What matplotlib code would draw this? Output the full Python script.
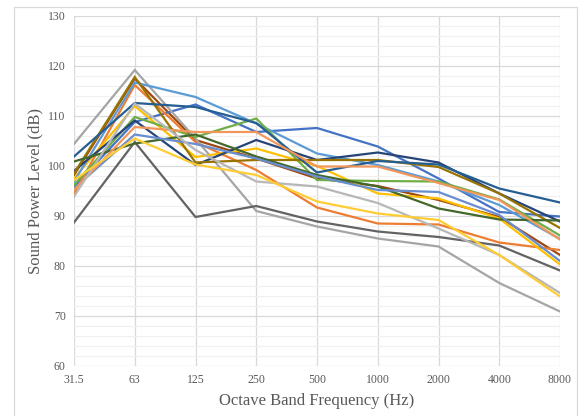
import matplotlib
matplotlib.use("Agg")
import matplotlib.pyplot as plt
from matplotlib.patches import Rectangle
from matplotlib.ticker import MultipleLocator

categories = ["31.5", "63", "125", "250", "500", "1000", "2000", "4000", "8000"]

blue         = [95.9, 108.8, 112.3, 106.8, 107.6, 103.9, 97.5, 90.8, 89.9]
orange       = [94.5, 116.2, 104.8, 99.2, 91.7, 88.5, 88.3, 84.7, 83.2]
gray         = [104.4, 119.2, 105.5, 91.0, 87.9, 85.5, 83.9, 76.6, 70.9]
gold         = [97.5, 112.0, 101.8, 103.5, 100.0, 94.5, 93.5, 89.5, 80.3]
light_blue   = [96.9, 116.7, 113.8, 108.5, 102.5, 100.2, 96.9, 92.2, 85.4]
green        = [96.2, 109.8, 105.8, 109.5, 97.2, 97.0, 96.9, 93.3, 86.1]
dark_navy    = [99.0, 109.1, 100.2, 105.2, 101.2, 102.7, 100.7, 94.5, 88.9]
brown        = [98.2, 117.5, 105.2, 101.5, 97.5, 96.0, 93.2, 89.8, 82.2]
dark_gray    = [88.7, 104.8, 89.8, 92.0, 88.9, 86.9, 85.8, 84.1, 79.1]
dark_gold    = [98.5, 117.8, 100.7, 101.2, 101.2, 101.2, 99.8, 94.5, 87.6]
steel_blue   = [101.9, 112.6, 111.8, 108.6, 98.7, 101.0, 100.3, 95.5, 92.7]
dark_green   = [100.9, 104.5, 106.3, 101.9, 98.2, 95.9, 91.5, 89.3, 89.1]
lighter_blue = [95.5, 106.3, 104.4, 101.5, 97.9, 95.2, 94.8, 90.2, 81.0]
light_orange = [95.2, 107.8, 106.8, 106.8, 99.9, 99.9, 96.6, 93.2, 85.3]
light_gray   = [93.9, 112.5, 103.2, 96.9, 95.9, 92.6, 87.5, 82.2, 74.6]
low_gold     = [97.2, 105.5, 100.3, 98.2, 92.9, 90.5, 89.2, 82.2, 73.9]

series = [
    (brown, "#9E480E"),
    (blue, "#4472C4"), (orange, "#ED7D31"), (gray, "#A5A5A5"), (gold, "#FFC000"),
    (light_blue, "#5B9BD5"), (green, "#70AD47"), (dark_navy, "#264478"),
    (dark_gray, "#636363"), (dark_gold, "#997300"),
    (steel_blue, "#255E91"), (dark_green, "#43682B"), (lighter_blue, "#698ED0"),
    (light_orange, "#F1975A"), (light_gray, "#B7B7B7"), (low_gold, "#FFCD33"),
]

W, H = 579, 416
fig = plt.figure(figsize=(W / 100, H / 100), dpi=100)
ax = fig.add_axes([74 / W, (H - 366) / H, (560 - 74) / W, (366 - 16) / H])

x = list(range(len(categories)))
for vals, col in series:
    ax.plot(x, vals, color=col, lw=1.6, solid_joinstyle="miter")

ax.set_xlim(0, len(categories) - 1)
ax.set_ylim(60, 130)
ax.set_xticks(x)
ax.set_xticklabels(categories)
ax.yaxis.set_major_locator(MultipleLocator(10))
ax.yaxis.set_minor_locator(MultipleLocator(2))
ax.grid(which="major", axis="both", color="#D9D9D9", lw=0.9)
ax.grid(which="minor", axis="y", color="#F0F0F0", lw=0.9)
ax.set_axisbelow(True)
for s in ax.spines.values():
    s.set_visible(False)
ax.tick_params(which="both", length=0)
ax.tick_params(axis="both", labelsize=8.5, labelcolor="#595959", pad=6)
for lab in ax.get_xticklabels() + ax.get_yticklabels():
    lab.set_fontfamily("Liberation Serif")

ax.set_xlabel("Octave Band Frequency (Hz)", family="Liberation Serif", fontsize=12,
              color="#595959", labelpad=5)
ax.set_ylabel("Sound Power Level (dB)", family="Liberation Serif", fontsize=12,
              color="#595959", labelpad=3)

fig.patches.append(Rectangle((14 / W, -0.01), (577 - 14) / W, (H - 7) / H + 0.01,
                             transform=fig.transFigure, fill=False,
                             edgecolor="#D9D9D9", lw=0.9))

fig.savefig("out.png", dpi=100, facecolor="white")
